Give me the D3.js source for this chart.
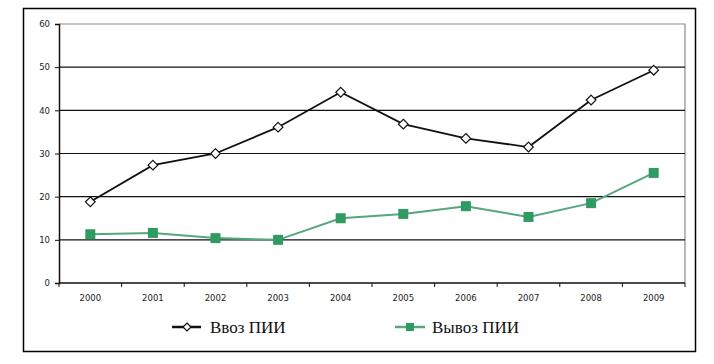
<!DOCTYPE html>
<html>
<head>
<meta charset="utf-8">
<script src="https://cdn.jsdelivr.net/npm/d3@7"></script>
<style>
  body { margin: 0; background: #fff; }
  .legend-text { font-family: "Liberation Serif", "Times New Roman", serif; }
</style>
</head>
<body>
<div id="chart"></div>
<script>
const years = ["2000", "2001", "2002", "2003", "2004", "2005", "2006", "2007", "2008", "2009"];
const inflow = [18.8, 27.3, 30.0, 36.1, 44.2, 36.8, 33.5, 31.5, 42.4, 49.3];
const outflow = [11.3, 11.6, 10.4, 10.0, 15.0, 16.0, 17.8, 15.3, 18.5, 25.5];
const yTicks = [0, 10, 20, 30, 40, 50, 60];
const seriesNames = ["Ввоз ПИИ", "Вывоз ПИИ"];

const W = 714, H = 364;
const MARGIN = { LEFT: 59, RIGHT: 29, TOP: 24, BOTTOM: 81 };
const WIDTH = W - MARGIN.LEFT - MARGIN.RIGHT;
const HEIGHT = H - MARGIN.TOP - MARGIN.BOTTOM;

const svg = d3.select("#chart").append("svg")
    .attr("width", W)
    .attr("height", H);

// outer frame
svg.append("rect")
    .attr("x", 23.5).attr("y", 8.5)
    .attr("width", 672).attr("height", 343)
    .attr("fill", "none")
    .attr("stroke", "#000")
    .attr("stroke-width", 1.5);

const g = svg.append("g")
    .attr("transform", `translate(${MARGIN.LEFT}, ${MARGIN.TOP})`);

const x = d3.scaleBand().domain(years).range([0, WIDTH]);
const y = d3.scaleLinear().domain([0, 60]).range([HEIGHT, 0]);
const cx = d => x(d) + x.bandwidth() / 2;

// plot area border (gray top/right)
g.append("path")
    .attr("d", `M0,${y(60)}H${WIDTH}V${HEIGHT}`)
    .attr("fill", "none")
    .attr("stroke", "#8c8c8c")
    .attr("stroke-width", 1.2);

// gridlines
g.selectAll(".grid")
    .data(yTicks.filter(t => t > 0 && t < 60))
    .join("line")
    .attr("x1", 0).attr("x2", WIDTH)
    .attr("y1", d => y(d)).attr("y2", d => y(d))
    .attr("stroke", "#111")
    .attr("stroke-width", 1.2);

// y axis
const yAxis = g.append("g")
    .call(d3.axisLeft(y).tickValues(yTicks).tickSize(4).tickPadding(5));
yAxis.select(".domain").attr("stroke", "#111").attr("stroke-width", 1.5);
yAxis.selectAll(".tick line").attr("stroke", "#111");
yAxis.selectAll("text")
    .attr("font-family", "DejaVu Sans, sans-serif")
    .attr("font-size", 8.5)
    .attr("fill", "#222");

// x axis with ticks between categories
const xAxis = g.append("g")
    .attr("transform", `translate(0, ${HEIGHT})`);
xAxis.append("line")
    .attr("x1", 0).attr("x2", WIDTH)
    .attr("stroke", "#111").attr("stroke-width", 1.5);
xAxis.selectAll(".xtick")
    .data(d3.range(years.length + 1))
    .join("line")
    .attr("x1", i => i * x.step()).attr("x2", i => i * x.step())
    .attr("y1", 0).attr("y2", 4)
    .attr("stroke", "#111");
xAxis.selectAll(".xlabel")
    .data(years)
    .join("text")
    .attr("x", d => cx(d))
    .attr("y", 18)
    .attr("text-anchor", "middle")
    .attr("font-family", "DejaVu Sans, sans-serif")
    .attr("font-size", 8.5)
    .attr("fill", "#222")
    .text(d => d);

const line = d3.line().x((d, i) => cx(years[i])).y(d => y(d));

// outflow series
g.append("path")
    .datum(outflow)
    .attr("d", line)
    .attr("fill", "none")
    .attr("stroke", "#55a77d")
    .attr("stroke-width", 2);
g.selectAll(".sq")
    .data(outflow)
    .join("rect")
    .attr("x", (d, i) => cx(years[i]) - 5)
    .attr("y", d => y(d) - 5)
    .attr("width", 10).attr("height", 10)
    .attr("fill", "#2f9a62");

// inflow series
g.append("path")
    .datum(inflow)
    .attr("d", line)
    .attr("fill", "none")
    .attr("stroke", "#111")
    .attr("stroke-width", 1.8);
const diamond = d3.symbol().type(d3.symbolDiamond2).size(60);
g.selectAll(".dm")
    .data(inflow)
    .join("path")
    .attr("d", diamond)
    .attr("transform", (d, i) => `translate(${cx(years[i])}, ${y(d)})`)
    .attr("fill", "#fff")
    .attr("stroke", "#111")
    .attr("stroke-width", 1.2);

// legend
const legend = svg.append("g").attr("transform", "translate(0, 327)");
const l1 = legend.append("g").attr("transform", "translate(172, 0)");
l1.append("line").attr("x1", 0).attr("x2", 29)
    .attr("stroke", "#111").attr("stroke-width", 2.5);
l1.append("path").attr("d", diamond.size(40)())
    .attr("transform", "translate(15, 0)")
    .attr("fill", "#fff").attr("stroke", "#111").attr("stroke-width", 1.2);
l1.append("text").attr("class", "legend-text").attr("x", 38).attr("y", 6)
    .attr("font-size", 17)
    .attr("fill", "#111")
    .text(seriesNames[0]);

const l2 = legend.append("g").attr("transform", "translate(395, 0)");
l2.append("line").attr("x1", 0).attr("x2", 30)
    .attr("stroke", "#55a77d").attr("stroke-width", 2.5);
l2.append("rect").attr("x", 11).attr("y", -4).attr("width", 8).attr("height", 8)
    .attr("fill", "#2f9a62");
l2.append("text").attr("class", "legend-text").attr("x", 37).attr("y", 6)
    .attr("font-size", 17)
    .attr("fill", "#111")
    .text(seriesNames[1]);
</script>
</body>
</html>
